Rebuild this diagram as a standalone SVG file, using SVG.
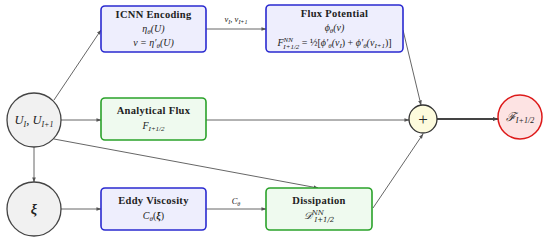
<svg xmlns="http://www.w3.org/2000/svg" width="550" height="242" viewBox="0 0 550 242">
<defs>
<style>
.bb{fill:#eeeefd;stroke:#2a2ad0;stroke-width:1.6}
.gb{fill:#effaef;stroke:#2aa22a;stroke-width:1.6}
.gc{fill:#f1f1f1;stroke:#444;stroke-width:1.3}
.t{font-family:"Liberation Serif",serif;font-weight:bold;font-size:10.5px;letter-spacing:0.3px;fill:#222;text-anchor:middle}
.m{font-family:"Liberation Serif",serif;font-style:italic;font-size:10px;fill:#222;text-anchor:middle}
.s{font-size:7px}
.e{stroke:#555;stroke-width:0.9;fill:none;marker-end:url(#ah)}
</style>
<marker id="ah" viewBox="0 0 6 6" refX="5.5" refY="3" markerWidth="5" markerHeight="5" orient="auto" markerUnits="userSpaceOnUse"><path d="M0,0.8 L6,3 L0,5.2 z" fill="#555"/></marker>
<marker id="ah2" viewBox="0 0 6 6" refX="5.5" refY="3" markerWidth="6" markerHeight="6" orient="auto" markerUnits="userSpaceOnUse"><path d="M0,0.8 L6,3 L0,5.2 z" fill="#444"/></marker>
</defs>
<rect width="550" height="242" fill="#fff"/>
<g id="connectors">
<line class="e" x1="54" y1="100" x2="101" y2="30"/>
<line class="e" x1="61" y1="120" x2="101" y2="120"/>
<line class="e" x1="34" y1="147" x2="34" y2="182"/>
<line class="e" x1="54" y1="139" x2="318" y2="188"/>
<line class="e" x1="61" y1="209" x2="101" y2="209"/>
<line class="e" x1="206" y1="209" x2="266" y2="209"/>
<line class="e" x1="206" y1="29" x2="266" y2="29"/>
<line class="e" x1="403" y1="30" x2="421" y2="105"/>
<line class="e" x1="206" y1="120" x2="409" y2="120"/>
<line class="e" x1="373" y1="208" x2="423" y2="134"/>
<line x1="437" y1="119" x2="498" y2="119" stroke="#444" stroke-width="2" marker-end="url(#ah2)"/>
<text class="m" x="236" y="22" style="font-size:8.5px">v<tspan style="font-size:6px" dy="1.5">I</tspan><tspan dy="-1.5">, v</tspan><tspan style="font-size:6px" dy="1.5">I+1</tspan></text>
<text class="m" x="236" y="204" style="font-size:8.5px">C<tspan style="font-size:6px" dy="1.5">θ</tspan></text>
</g>
<g id="U">
<circle class="gc" cx="34" cy="120" r="27"/>
<text class="m" x="34" y="124" style="font-size:12.5px">U<tspan style="font-size:8px" dy="2.5">I</tspan><tspan dy="-2.5">, U</tspan><tspan style="font-size:8px" dy="2.5">I+1</tspan></text>
</g>
<g id="xi">
<circle class="gc" cx="34" cy="209" r="27"/>
<text x="34" y="213.5" style="font-family:'Liberation Serif',serif;font-weight:bold;font-style:italic;font-size:14px;fill:#222;text-anchor:middle">ξ</text>
</g>
<g id="icnn">
<rect class="bb" x="101" y="6" width="105" height="46" rx="4"/>
<text class="t" x="153.5" y="18">ICNN Encoding</text>
<text class="m" x="153.5" y="32">η<tspan class="s" dy="1.5">θ</tspan><tspan dy="-1.5">(U)</tspan></text>
<text class="m" x="153.5" y="46">v = η′<tspan class="s" dy="1.5">θ</tspan><tspan dy="-1.5">(U)</tspan></text>
</g>
<g id="fluxpot">
<rect class="bb" x="266" y="5" width="137" height="47" rx="4"/>
<text class="t" x="334.5" y="17">Flux Potential</text>
<text class="m" x="334.5" y="31">ϕ<tspan class="s" dy="1.5">θ</tspan><tspan dy="-1.5">(v)</tspan></text>
<text class="m" x="334.5" y="46">F<tspan class="s" dy="-4">NN</tspan><tspan class="s" dx="-9.5" dy="6.5">I+1/2</tspan><tspan dy="-2.5" style="font-style:normal"> = ½[</tspan>ϕ′<tspan class="s" dy="1.5">θ</tspan><tspan dy="-1.5">(v</tspan><tspan class="s" dy="1.5">I</tspan><tspan dy="-1.5" style="font-style:normal">) + </tspan>ϕ′<tspan class="s" dy="1.5">θ</tspan><tspan dy="-1.5">(v</tspan><tspan class="s" dy="1.5">I+1</tspan><tspan dy="-1.5" style="font-style:normal">)]</tspan></text>
</g>
<g id="analytical">
<rect class="gb" x="101" y="98" width="105" height="42" rx="4"/>
<text class="t" x="153.5" y="114">Analytical Flux</text>
<text class="m" x="153.5" y="129">F<tspan class="s" dy="1.5">I+1/2</tspan></text>
</g>
<g id="eddy">
<rect class="bb" x="101" y="188" width="105" height="42" rx="4"/>
<text class="t" x="153.5" y="204">Eddy Viscosity</text>
<text class="m" x="153.5" y="219">C<tspan class="s" dy="1.5">θ</tspan><tspan dy="-1.5" style="font-style:normal">(</tspan><tspan style="font-weight:bold">ξ</tspan><tspan style="font-style:normal">)</tspan></text>
</g>
<g id="dissipation">
<rect class="gb" x="266" y="188" width="106" height="42" rx="4"/>
<text class="t" x="319" y="204">Dissipation</text>
<text class="m" x="319" y="219" style="font-family:'DejaVu Serif',serif">𝒟<tspan class="s" dy="-4">NN</tspan><tspan class="s" dx="-9.5" dy="6.5">I+1/2</tspan></text>
</g>
<g id="plus">
<circle cx="423" cy="119" r="14" fill="#fdfbdd" stroke="#333" stroke-width="1.3"/>
<text x="423" y="125" style="font-family:'Liberation Serif',serif;font-size:17px;fill:#222;text-anchor:middle">+</text>
</g>
<g id="F">
<circle cx="520" cy="117" r="22" fill="#fde3e3" stroke="#dd1a1a" stroke-width="1.5"/>
<text class="m" x="520" y="121" style="font-size:12px">ℱ<tspan style="font-size:8px" dy="2">I+1/2</tspan></text>
</g>
</svg>
